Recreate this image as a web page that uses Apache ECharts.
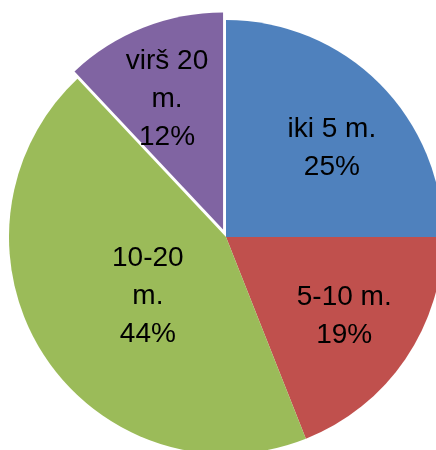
<!DOCTYPE html>
<html>
<head>
<meta charset="utf-8">
<script src="https://cdn.jsdelivr.net/npm/echarts@6/dist/echarts.min.js"></script>
<style>
  html, body { margin: 0; padding: 0; background: #fff; }
  #chart { width: 436px; height: 450px; }
</style>
</head>
<body>
<div id="chart"></div>
<script>
// data
var categories = ['iki 5 m.', '5-10 m.', '10-20 m.', 'virš 20 m.'];
var values = [25, 19, 44, 12];
var colors = ['#4F81BD', '#C0504D', '#9BBB59', '#8064A2'];
// label line breaks as in the picture
var labelLines = ['iki 5 m.', '5-10 m.', '10-20\nm.', 'virš 20\nm.'];
// nudges for the labels (px), to mimic the best-fit placement
var labelShift = [[27, -10], [26, 17], [16, 0], [-15, -27]];

var chart = echarts.init(document.getElementById('chart'));

chart.setOption({
  animation: false,
  series: [
    {
      type: 'pie',
      center: [226, 237],
      radius: 217,
      startAngle: 90,
      clockwise: true,
      selectedMode: 'single',
      selectedOffset: 8,
      silent: true,
      itemStyle: {
        borderWidth: 0
      },
      label: {
        show: true,
        position: 'inside',
        color: '#000',
        fontFamily: 'Liberation Sans',
        fontSize: 28,
        lineHeight: 38,
        align: 'center',
        formatter: function (p) {
          return labelLines[p.dataIndex] + '\n' + p.percent + '%';
        }
      },
      labelLine: { show: false },
      emphasis: { disabled: true },
      labelLayout: function (params) {
        var s = labelShift[params.dataIndex];
        return { dx: s[0], dy: s[1] };
      },
      data: categories.map(function (name, i) {
        return {
          name: name,
          value: values[i],
          selected: i === 3,
          itemStyle: { color: colors[i] }
        };
      })
    }
  ]
});
</script>
</body>
</html>
